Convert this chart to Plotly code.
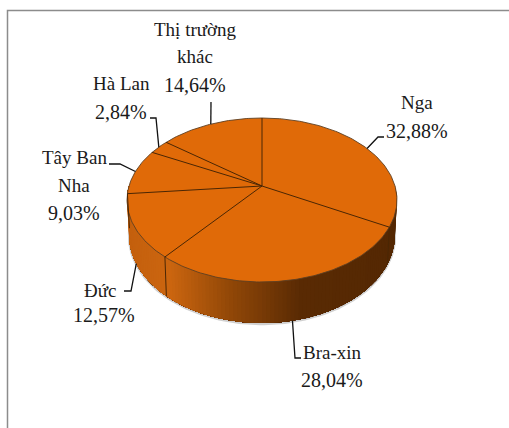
import numpy as np
import plotly.graph_objects as go

categories = ["Nga", "Bra-xin", "Đức", "Tây Ban Nha", "Hà Lan", "Thị trường khác"]
shares = [32.88, 28.04, 12.57, 9.03, 2.84, 14.64]
share_labels = ["32,88%", "28,04%", "12,57%", "9,03%", "2,84%", "14,64%"]
label_lines = [["Nga"], ["Bra-xin"], ["Đức"], ["Tây Ban", "Nha"], ["Hà Lan"], ["Thị trường", "khác"]]

# layout only: where each label block sits (x per line, y per line) and leader elbows
label_x = [[417, 417], [332, 332], [100, 104], [74, 74, 74], [121, 121], [195, 195, 195]]
label_y = [[102, 131], [352, 380], [290, 315], [157, 185, 213], [83, 112], [29, 56, 85]]
elbows = [[(378, 137), (384, 137)], [(295, 358), (301, 358)], [(131, 291), (124, 291)],
          [(120, 164), (109, 164)], [(156, 118), (150, 118)], [(211, 102)]]
on_side = [False, True, True, False, False, False]

CX, CY, A, C, K, DEPTH, SHRINK = 262, 186, 133, 79.6, 0.1707, 34, 0.985
TOP = "#e06a08"
EDGE = "#4a2604"
grad_x = [127, 170, 230, 300, 397]
grad_r = [196, 204, 146, 90, 84]
grad_g = [96, 102, 72, 43, 40]
grad_b = [14, 16, 8, 4, 3]


def rim(theta, lower=False):
    """Perspective projection of a point on the pie's rim (theta clockwise from top)."""
    x, y = np.sin(theta), np.cos(theta)
    w = 1 + K * y
    if lower:
        return CX + SHRINK * A * x / w, CY + (-C * y + DEPTH) / w
    return CX + A * x / w, CY - C * y / w


fig = go.Figure()


def poly(xs, ys, color, line_color=None, width=0):
    fig.add_trace(go.Scatter(x=xs, y=ys, mode="lines", fill="toself", fillcolor=color,
                             line=dict(color=line_color or color, width=width),
                             hoverinfo="skip", showlegend=False))


def line(xs, ys, color, width):
    fig.add_trace(go.Scatter(x=xs, y=ys, mode="lines", line=dict(color=color, width=width),
                             hoverinfo="skip", showlegend=False))


# soft shadow under the wall
ts = np.linspace(np.pi / 2, 3 * np.pi / 2, 120)
lx, ly = rim(ts, lower=True)
line(lx, ly + 1, "rgba(120,120,120,0.35)", 2.5)

# side wall, front half: each band reaches to the far end and is overpainted by the next
bands = np.linspace(np.pi / 2, 3 * np.pi / 2, 121)
for i in range(len(bands) - 1):
    ts = bands[i:]
    x0, y0 = rim(ts)
    x1, y1 = rim(ts[::-1], lower=True)
    xm = (x0[:2].mean() + x1[-2:].mean()) / 2
    col = "rgb(%d,%d,%d)" % (np.interp(xm, grad_x, grad_r), np.interp(xm, grad_x, grad_g),
                             np.interp(xm, grad_x, grad_b))
    poly(list(x0) + list(x1), list(y0) + list(y1), col)

# top surface
ts = np.linspace(0, 2 * np.pi, 361)
xr, yr = rim(ts)
poly(xr, yr, TOP, "#5e3f22", 0.9)

# slice divisions and seams on the wall
fractions = np.array(shares) / sum(shares)
cum = np.concatenate([[0], np.cumsum(fractions)]) * 2 * np.pi
for b in cum[:-1]:
    px, py = rim(b)
    line([CX, px], [CY, py], EDGE, 1)
    if np.pi / 2 < b < 3 * np.pi / 2:
        sx, sy = rim(b, lower=True)
        line([px, sx], [py, sy], EDGE, 1)

# leader lines, anchored at each slice's mid-angle
mids = (cum[:-1] + cum[1:]) / 2
for mid, el, side in zip(mids, elbows, on_side):
    ax, ay = rim(mid, lower=side)
    line([ax] + [p[0] for p in el], [ay] + [p[1] for p in el], "#111111", 1.3)

# labels
for lines, pct, xs, ys in zip(label_lines, share_labels, label_x, label_y):
    texts = lines + [pct]
    for txt, lx_, ly_ in zip(texts, xs, ys):
        fig.add_annotation(x=lx_, y=ly_, text=txt, showarrow=False, xanchor="center", yanchor="middle",
                           font=dict(family="Liberation Serif", size=20 if txt == pct else 19, color="#1a1a1a"))

# chart frame: left and top edges only, the rest is cropped off
line([7.5, 7.5, 509], [428, 10.5, 10.5], "#8c8c8c", 1.5)

fig.update_xaxes(range=[0, 509], visible=False, fixedrange=True)
fig.update_yaxes(range=[428, 0], visible=False, fixedrange=True)
fig.update_layout(width=509, height=428, margin=dict(l=0, r=0, t=0, b=0),
                  paper_bgcolor="white", plot_bgcolor="white", showlegend=False)
fig.write_html("out.html", config=dict(displayModeBar=False),
               post_script="document.body.style.margin='0';document.documentElement.style.overflow='hidden';")
